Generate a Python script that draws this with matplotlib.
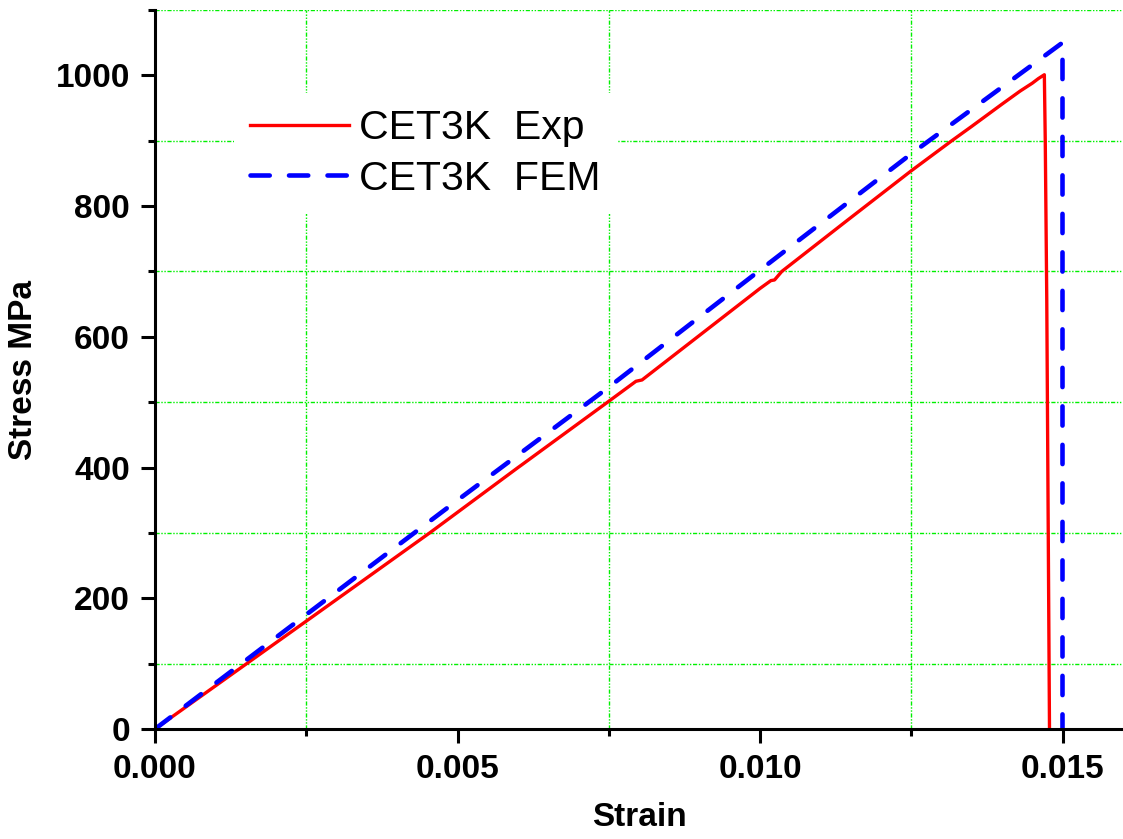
import matplotlib
matplotlib.use("Agg")
import matplotlib.pyplot as plt
from matplotlib.ticker import MultipleLocator, FormatStrFormatter

# font: Arial look-alike
plt.rcParams["font.family"] = ["Liberation Sans", "DejaVu Sans"]

exp_strain = [0.0, 0.0025, 0.00454, 0.00600, 0.00606, 0.00748, 0.00795, 0.00805,
              0.0100, 0.01018, 0.01024, 0.01036, 0.01144, 0.0125, 0.01317,
              0.0135, 0.0140, 0.0143, 0.0145, 0.0146, 0.01470, 0.014715,
              0.01474, 0.014785]
exp_stress = [0, 165, 300, 400, 404, 500, 532, 534,
              674, 686, 687, 700, 778, 854, 900,
              922, 956, 976, 988, 995, 1001, 900,
              656, 0]

# FEM curve
fem_strain = [0.0, 0.0025, 0.005, 0.0075, 0.010, 0.0125, 0.0150, 0.0150]
fem_stress = [0, 175, 350, 523, 702, 880, 1050, 0]

labels = ["CET3K  Exp", "CET3K  FEM"]

fig = plt.figure(figsize=(11.23, 8.39), dpi=100)
ax = fig.add_axes([155 / 1123, 110 / 839, 968 / 1123, 719 / 839])

ax.plot(exp_strain, exp_stress, color="#ff0000", lw=2.4, label=labels[0],
        solid_joinstyle="round")
ax.plot(fem_strain, fem_stress, color="#0000ff", lw=3.3, label=labels[1],
        linestyle=(0, (4.2, 4.2)), dash_capstyle="round")

ax.set_xlim(0, 0.016)
ax.set_ylim(0, 1100)
ax.xaxis.set_major_locator(MultipleLocator(0.005))
ax.xaxis.set_minor_locator(MultipleLocator(0.0025))
ax.yaxis.set_major_locator(MultipleLocator(200))
ax.yaxis.set_minor_locator(MultipleLocator(100))
ax.xaxis.set_major_formatter(FormatStrFormatter("%.3f"))

# grid only at the minor positions, green dash-dot-dot
ax.grid(which="minor", color="#00f000", lw=1.0,
        linestyle=(0, (3, 1.2, 1, 1.2, 1, 1.2)))
ax.grid(which="major", visible=False)
ax.set_axisbelow(True)

for s in ["top", "right"]:
    ax.spines[s].set_visible(False)
for s in ["left", "bottom"]:
    ax.spines[s].set_linewidth(2.2)

ax.tick_params(which="major", direction="out", length=10, width=2.2,
               labelsize=24, pad=8)
ax.tick_params(which="minor", direction="out", length=5, width=2.2)
for lab in ax.get_xticklabels() + ax.get_yticklabels():
    lab.set_fontweight("bold")

ax.set_xlabel("Strain", fontsize=24, fontweight="bold", labelpad=12)
ax.set_ylabel("Stress MPa", fontsize=24, fontweight="bold", labelpad=12)

leg = ax.legend(loc="upper left", bbox_to_anchor=(234 / 1123, 1 - 93 / 839),
                bbox_transform=fig.transFigure, fontsize=29.5, frameon=True,
                facecolor="white", edgecolor="none", framealpha=1,
                fancybox=False, borderpad=0.4, borderaxespad=0,
                handlelength=2.4, handletextpad=0.26, labelspacing=0.3)

fig.savefig("out.png", dpi=100)
